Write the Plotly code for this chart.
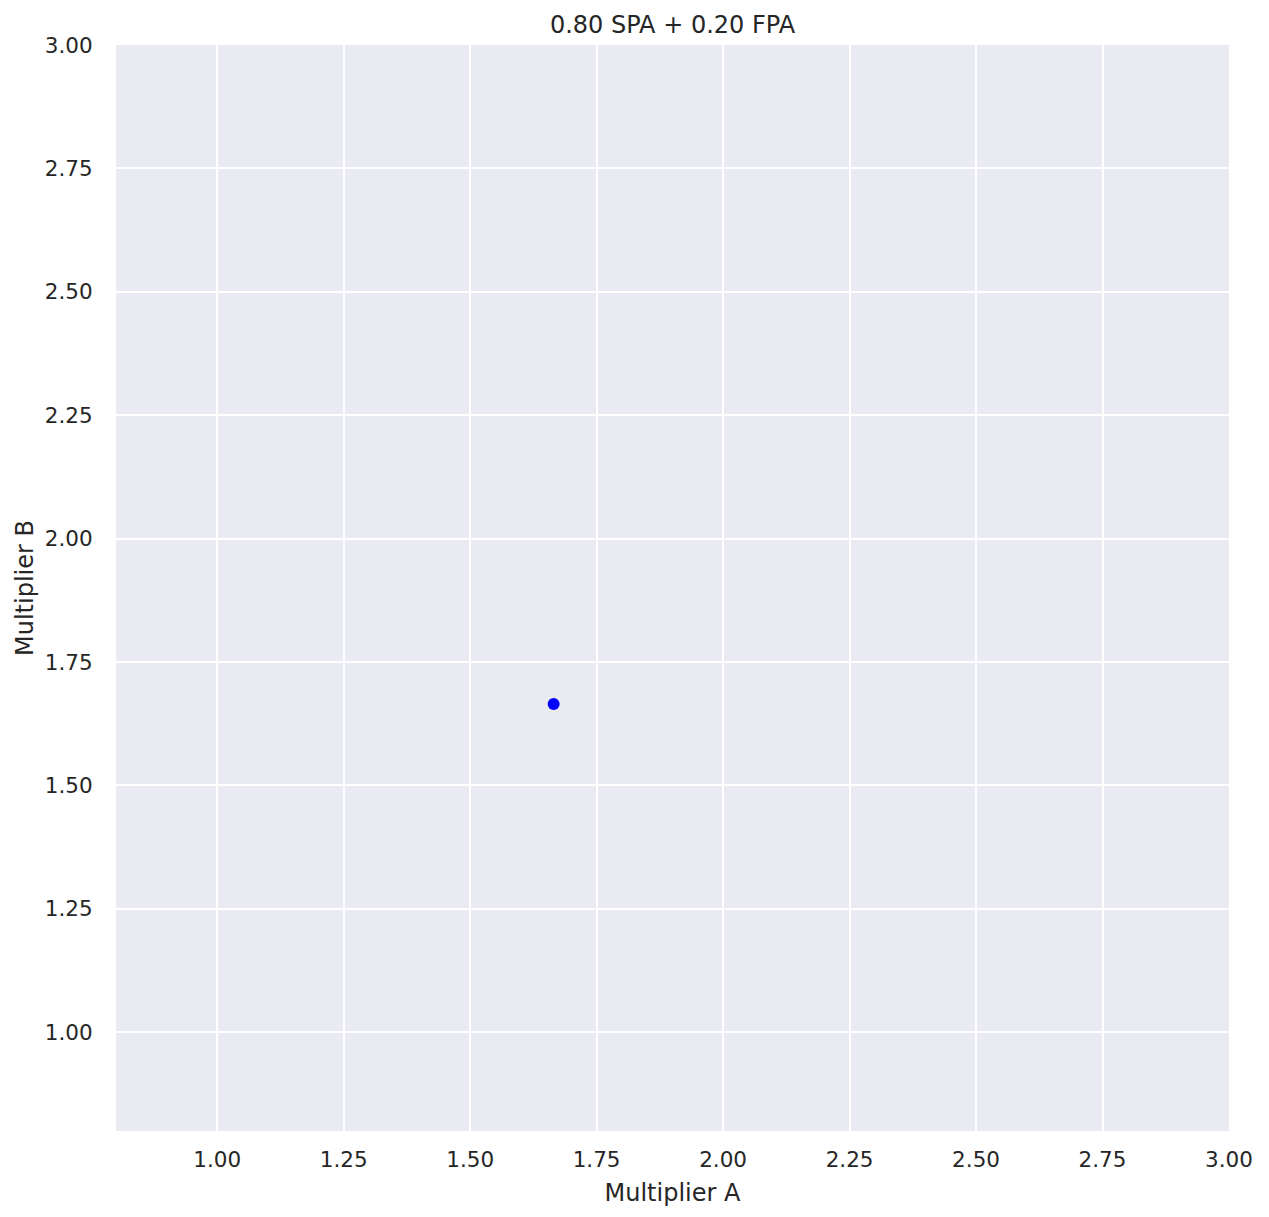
import plotly.graph_objects as go

# Data
multiplier_a = [1.665]
multiplier_b = [1.665]
tick_vals = [1.00, 1.25, 1.50, 1.75, 2.00, 2.25, 2.50, 2.75, 3.00]
tick_text = [f"{v:.2f}" for v in tick_vals]
title_text = "0.80 SPA + 0.20 FPA"

TEXT = "#262626"
FONT = "DejaVu Sans"

fig = go.Figure()
fig.add_trace(go.Scatter(
    x=multiplier_a, y=multiplier_b, mode="markers",
    marker=dict(color="#0000FF", size=12, line=dict(width=0)),
    showlegend=False,
))

axis_common = dict(
    range=[0.8, 3.0],
    tickvals=tick_vals,
    ticktext=tick_text,
    showgrid=True,
    gridcolor="white",
    gridwidth=2,
    zeroline=False,
    showline=False,
    automargin=False,
    ticks="outside",
    tickcolor="rgba(0,0,0,0)",
    tickfont=dict(family=FONT, size=21.5, color=TEXT),
    title_font=dict(family=FONT, size=24, color=TEXT),
)

W, H = 1253, 1201
L, T = 108, 37
PW, PH = 1113, 1086
fig.update_layout(
    width=W, height=H,
    margin=dict(l=L, r=W - L - PW, t=T, b=H - T - PH),
    paper_bgcolor="white",
    plot_bgcolor="#EAEAF2",
    font=dict(family=FONT, color=TEXT),
    title=dict(
        text=title_text,
        x=(L + PW / 2) / W, xanchor="center",
        y=1 - 17 / H, yanchor="middle", yref="container",
        font=dict(family=FONT, size=24, color=TEXT),
    ),
    xaxis=dict(axis_common, ticklen=9, title=dict(text="Multiplier A", standoff=13)),
    yaxis=dict(axis_common, ticklen=18, title=dict(text="Multiplier B", standoff=4)),
)

fig.write_html("out.html")
